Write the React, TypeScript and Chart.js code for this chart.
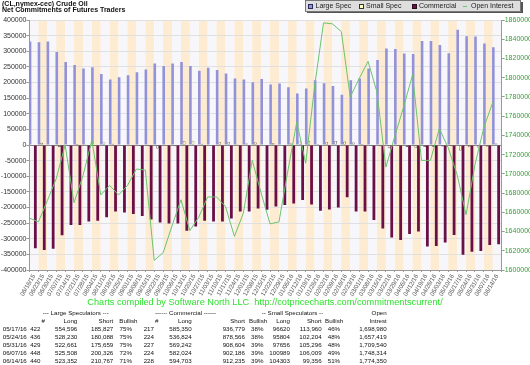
import React, { useEffect, useRef } from 'react';
import { Chart, registerables } from 'chart.js';
Chart.register(...registerables);

const dates = ["06/16/15","06/23/15","06/30/15","07/07/15","07/14/15","07/21/15","07/28/15","08/04/15","08/11/15","08/18/15","08/25/15","09/01/15","09/08/15","09/15/15","09/22/15","09/29/15","10/06/15","10/13/15","10/20/15","10/27/15","11/03/15","11/10/15","11/17/15","11/24/15","12/01/15","12/08/15","12/15/15","12/22/15","12/29/15","01/05/16","01/12/16","01/19/16","01/26/16","02/02/16","02/09/16","02/16/16","02/23/16","03/01/16","03/08/16","03/15/16","03/22/16","03/29/16","04/05/16","04/12/16","04/19/16","04/26/16","05/03/16","05/10/16","05/17/16","05/24/16","05/31/16","06/07/16","06/14/16"];

const largeSpec = [331000,329000,331000,298000,266000,256000,245000,249000,227000,210000,
  217000,223000,233000,242000,261000,253000,261000,266000,253000,238000,
  247000,240000,229000,213000,210000,201000,211000,194000,197000,185000,
  165000,181000,207000,198000,189000,161000,207000,213000,245000,272000,
  309000,307000,293000,291000,333000,333000,320000,294000,
  368769,348142,347002,325182,312585];

const smallSpec = [-1000,7000,2000,-6000,-4000,3000,1000,-3000,8000,4000,
  -1000,-2000,-3000,-4000,-11000,-2000,-4000,12000,14000,4000,
  -1000,9000,9000,1000,5000,8000,-1000,6000,-2000,5000,
  14000,12000,3000,9000,13000,11000,8000,3000,-3000,-4000,
  -10000,-3000,-6000,-9000,-6000,-6000,-5000,-4000,
  -17340,-6400,-7640,-5020,4947];

const commercial = [-330000,-336000,-332000,-289000,-256000,-256000,-245000,-242000,-231000,-213000,
  -216000,-221000,-227000,-238000,-248000,-251000,-251000,-274000,-261000,-242000,
  -245000,-245000,-235000,-213000,-213000,-203000,-207000,-197000,-192000,-187000,
  -176000,-190000,-210000,-206000,-200000,-167000,-213000,-213000,-240000,-267000,
  -296000,-304000,-285000,-277000,-325000,-323000,-312000,-288000,
  -351429,-341742,-339362,-320162,-317532];

const openInterest = [1654000,1650000,1672000,1695000,1730000,1670000,1698000,1735000,1678000,1688000,
  1678000,1688000,1705000,1704000,1610000,1618000,1646000,1673000,1641000,1655000,
  1676000,1676000,1666000,1635000,1659000,1714000,1680000,1648000,1650000,1703000,
  1754000,1711000,1791000,1857000,1856000,1848000,1780000,1799000,1817000,1785000,
  1707000,1739000,1770000,1803000,1714000,1714000,1747000,1727000,
  1698980,1657419,1709540,1748314,1774350];

const tDates = ["05/17/16","05/24/16","05/31/16","06/07/16","06/14/16"];
const lsNum = ["422","436","429","448","440"];
const lsLong = ["554,596","528,230","522,661","525,508","523,352"];
const lsShort = ["185,827","180,088","175,659","200,326","210,767"];
const lsBull = ["75%","75%","75%","72%","71%"];
const cmNum = ["217","224","227","224","228"];
const cmLong = ["585,350","536,824","569,242","582,024","594,703"];
const cmShort = ["936,779","878,566","908,604","902,186","912,235"];
const cmBull = ["38%","38%","39%","39%","39%"];
const ssLong = ["96620","95804","97656","100989","104303"];
const ssShort = ["113,960","102,204","105,296","106,009","99,356"];
const ssBull = ["46%","48%","48%","49%","51%"];
const oiTable = ["1,698,980","1,657,419","1,709,540","1,748,314","1,774,350"];

const C_LARGE = '#9292d8';
const C_LARGE_B = '#2a2a5a';
const C_SMALL = '#ffffc0';
const C_SMALL_B = '#333333';
const C_COMM = '#6a1046';
const C_COMM_B = '#2a0a1e';
const C_OI = '#6cc46c';
const C_GREENTXT = '#3a9a3a';

const stripes = {
  id: 'stripes',
  beforeDraw(chart: any) {
    const { ctx, chartArea, scales } = chart;
    const x = scales.x;
    const w = x.getPixelForValue(1) - x.getPixelForValue(0);
    ctx.save();
    for (let i = 0; i < dates.length; i++) {
      const c = x.getPixelForValue(i);
      ctx.fillStyle = i % 2 ? '#fdebd2' : '#f7f7fb';
      ctx.fillRect(c - w / 2, chartArea.top, w, chartArea.bottom - chartArea.top);
    }
    ctx.restore();
  },
};

const FONT = "'Liberation Sans', Arial, sans-serif";

function T(props: { x: number; y: number; a?: string; s?: number; b?: boolean; c?: string; children: any }) {
  const fs = props.s ?? 6.2;
  const st: any = {
    position: 'absolute', top: props.y - fs / 2 - 0.5, lineHeight: fs + 1 + 'px', fontSize: fs + 'px',
    whiteSpace: 'pre', fontFamily: FONT, color: props.c ?? '#111', fontWeight: props.b ? 'bold' : 'normal',
  };
  if (props.a === 'r') st.right = 530 - props.x;
  else if (props.a === 'c') { st.left = props.x; st.transform = 'translateX(-50%)'; }
  else st.left = props.x;
  return <div style={st}>{props.children}</div>;
}

export default function App() {
  const ref = useRef<HTMLCanvasElement>(null);
  useEffect(() => {
    const barCommon = { xAxisID: 'x', yAxisID: 'y', order: 1, inflateAmount: 0 };
    const chart = new Chart(ref.current as HTMLCanvasElement, {
      type: 'bar',
      data: {
        labels: dates,
        datasets: [
          { type: 'line', label: 'Open Interest', data: openInterest.map((v, i) => ({ x: i, y: v })) as any,
            xAxisID: 'xl', yAxisID: 'y2', borderColor: C_OI, borderWidth: 1, pointRadius: 0, tension: 0, order: 0, fill: false, clip: false } as any,
          { label: 'Large Spec', data: largeSpec, backgroundColor: C_LARGE, borderWidth: 0, barThickness: 2.6, ...barCommon } as any,
          { label: 'Small Spec', data: smallSpec, backgroundColor: C_SMALL, borderColor: C_SMALL_B, borderWidth: 0.6,
            borderSkipped: false, barThickness: 2.6, ...barCommon } as any,
          { label: 'Commercial', data: commercial, backgroundColor: C_COMM, borderWidth: 0, barThickness: 2.8, ...barCommon } as any,
        ],
      },
      options: {
        animation: false,
        responsive: false,
        maintainAspectRatio: false,
        layout: { padding: { top: 20, left: 0, right: 0, bottom: 0 } },
        plugins: { legend: { display: false }, tooltip: { enabled: false }, title: { display: false } },
        scales: {
          x: {
            type: 'category', offset: true,
            grid: { display: true, drawOnChartArea: false, tickLength: 2, color: '#999' },
            border: { color: '#999' },
            ticks: { autoSkip: false, minRotation: 60, maxRotation: 60, padding: 1, color: '#555', font: { family: FONT, size: 6.2 } },
            afterFit: (s: any) => { s.height = 30; },
          },
          xl: { type: 'linear', min: 0, max: 53, display: false, offset: false },
          y: {
            position: 'left', min: -400000, max: 400000,
            ticks: { stepSize: 50000, padding: 0, color: '#333', font: { family: FONT, size: 7 }, callback: (v: any) => String(v) },
            grid: { color: (c: any) => (c.tick && c.tick.value === 0 ? '#8a8a8a' : '#e0e0e0'), tickLength: 3, tickColor: '#999' },
            border: { color: '#999' },
            afterFit: (s: any) => { s.width = 29.5; },
          },
          y2: {
            position: 'right', min: 1600000, max: 1860000,
            ticks: { stepSize: 20000, padding: 0, color: C_GREENTXT, font: { family: FONT, size: 7 }, callback: (v: any) => String(v) },
            grid: { drawOnChartArea: false, tickLength: 3, color: '#999' },
            border: { color: '#999' },
            afterFit: (s: any) => { s.width = 28.3; },
          },
        },
      } as any,
      plugins: [stripes],
    });
    return () => chart.destroy();
  }, []);

  const rowsY = [329, 337, 345, 353, 361];
  const legendItems = [
    { label: 'Large Spec', x: 308, tx: 315.5, fill: C_LARGE, border: C_LARGE_B, line: false },
    { label: 'Small Spec', x: 359, tx: 366, fill: C_SMALL, border: C_SMALL_B, line: false },
    { label: 'Commercial', x: 411.5, tx: 419, fill: C_COMM, border: C_COMM_B, line: false },
    { label: 'Open Interest', x: 463, tx: 471, fill: C_OI, border: C_OI, line: true },
  ];

  return (
    <div style={{ position: 'absolute', left: 0, top: 0, width: 530, height: 365, background: '#fff', overflow: 'hidden' }}>
      <canvas ref={ref} width={530} height={300} style={{ position: 'absolute', left: 0, top: 0, width: 530, height: 300 }} />
      <T x={2} y={4.3} s={7} b>(CL,nymex-cec) Crude Oil</T>
      <T x={2} y={10} s={7} b>Net Commitments of Futures Traders</T>
      <div style={{ position: 'absolute', left: 307, top: 2, width: 216, height: 11, background: '#555' }} />
      <div style={{ position: 'absolute', left: 305, top: 0, width: 214, height: 10, background: '#dedede', border: '1px solid #777' }} />
      {legendItems.map((it) => (
        <React.Fragment key={it.label}>
          {it.line ? (
            <div style={{ position: 'absolute', left: it.x, top: 5.5, width: 4, height: 1.2, background: it.fill }} />
          ) : (
            <div style={{ position: 'absolute', left: it.x, top: 3.5, width: 3, height: 3, background: it.fill, border: '1px solid ' + it.border }} />
          )}
          <T x={it.tx} y={5.8} s={7} c="#222">{it.label}</T>
        </React.Fragment>
      ))}
      <T x={265} y={302.5} a="c" s={9.2} c="#2fe02f">{'Charts compiled by Software North LLC  http://cotpricecharts.com/commitmentscurrent/'}</T>
      <T x={42.7} y={312.5}>--- Large Speculators ---</T>
      <T x={155} y={312.5}>------ Commercial ------</T>
      <T x={261.7} y={312.5}>-- Small Speculators --</T>
      <T x={386.7} y={312.5} a="r">Open</T>
      <T x={43.3} y={320.5} a="c">#</T>
      <T x={77.3} y={320.5} a="r">Long</T>
      <T x={113.3} y={320.5} a="r">Short</T>
      <T x={119.3} y={320.5}>Bullish</T>
      <T x={156.7} y={320.5} a="c">#</T>
      <T x={191.7} y={320.5} a="r">Long</T>
      <T x={245} y={320.5} a="r">Short</T>
      <T x={249} y={320.5}>Bullish</T>
      <T x={290} y={320.5} a="r">Long</T>
      <T x={321.7} y={320.5} a="r">Short</T>
      <T x={325} y={320.5}>Bullish</T>
      <T x={386.7} y={320.5} a="r">Intrest</T>
      {tDates.map((d, r) => (
        <React.Fragment key={d}>
          <T x={2.7} y={rowsY[r]}>{d}</T>
          <T x={40.5} y={rowsY[r]} a="r">{lsNum[r]}</T>
          <T x={77.3} y={rowsY[r]} a="r">{lsLong[r]}</T>
          <T x={113.3} y={rowsY[r]} a="r">{lsShort[r]}</T>
          <T x={119.5} y={rowsY[r]}>{lsBull[r]}</T>
          <T x={154} y={rowsY[r]} a="r">{cmNum[r]}</T>
          <T x={191.7} y={rowsY[r]} a="r">{cmLong[r]}</T>
          <T x={245} y={rowsY[r]} a="r">{cmShort[r]}</T>
          <T x={251} y={rowsY[r]}>{cmBull[r]}</T>
          <T x={290} y={rowsY[r]} a="r">{ssLong[r]}</T>
          <T x={321.7} y={rowsY[r]} a="r">{ssShort[r]}</T>
          <T x={327.7} y={rowsY[r]}>{ssBull[r]}</T>
          <T x={386.7} y={rowsY[r]} a="r">{oiTable[r]}</T>
        </React.Fragment>
      ))}
    </div>
  );
}
